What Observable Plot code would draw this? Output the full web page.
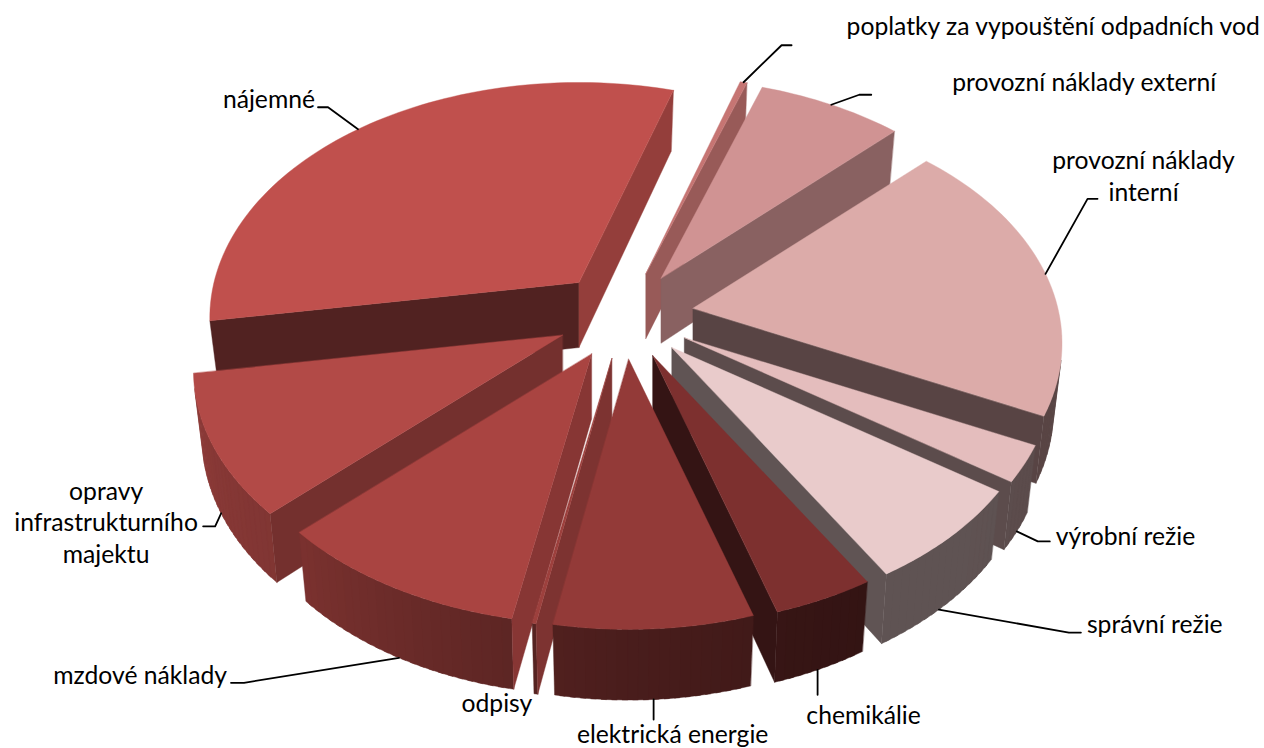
<!DOCTYPE html>
<html><head><meta charset="utf-8">
<script src="https://cdn.jsdelivr.net/npm/d3@7"></script>
<script src="https://cdn.jsdelivr.net/npm/@observablehq/plot@0.6"></script>
<style>html,body{margin:0;padding:0;background:#fff}svg{display:block}</style>
</head><body><div id="chart"></div>
<script>
// Data: clockwise from the top of the pie
const categories = ["poplatky za vypouštění odpadních vod","provozní náklady externí","provozní náklady\ninterní","výrobní režie","správní režie","chemikálie","elektrická energie","odpisy","mzdové náklady","opravy\ninfrastrukturního\nmajektu","nájemné"];
const shares = [0.35,7.4,19.8,2.5,6.75,3.85,7.6,0.15,9.8,9.7,32.5];
const colors = ["#C67573","#D09393","#DCABA9","#E4BDBD","#E9CBCB","#7D302F","#933A38","#9D403D","#A94441","#B24A47","#C0504D"];

// Pie geometry
const W = 1264, H = 748, R = 365, cx = 624, cy = 315;
const startAngle = 17.2, tilt = 0.63, persp = 6.7, thick = 0.178, explode = 0.19, converge = 0.977;
const rad = a => a * Math.PI / 180;
const flatShade = d3.scaleLinear([100,135,171,206,253],[.8,.66,.42,.4,.42]).clamp(true);
const rimShade = d3.scaleLinear([100,150,163,180,191,225,262],[.4,.41,.44,.5,.55,.72,.8]).clamp(true);

const total = d3.sum(shares);
let acc = startAngle;
const slices = shares.map((v,i)=>{
  const a0 = acc, a1 = acc + v/total*360; acc = a1;
  const m = (a0+a1)/2;
  return {i, a0, a1, m, tx: explode*Math.sin(rad(m)), ty: -explode*tilt*Math.cos(rad(m))};
});
function proj(s, a, r, z){
  const u = r*Math.sin(rad(a)), v = -r*Math.cos(rad(a));
  const k = persp/(persp-v);
  return [s.tx + u*k*(1-(1-converge)*z), s.ty + tilt*v*k + z*thick*(1+(k-1)*.5)];
}
const shade = (c,f) => { const q = d3.rgb(c); return d3.rgb(q.r*f,q.g*f,q.b*f).formatHex(); };
const rows = []; let id = 0;
const poly = (pts,c) => { id++; pts.forEach(p=>rows.push({id,x:p[0],y:p[1],c})); };
const area = p => d3.sum(p,(q,i)=>{const n=p[(i+1)%p.length];return q[0]*n[1]-n[0]*q[1];});
function wall(s,a,ra,b,rb,f){
  const pts=[proj(s,a,ra,0),proj(s,b,rb,0),proj(s,b,rb,1),proj(s,a,ra,1)];
  if(area(pts)<0) poly(pts,shade(colors[s.i],f));
}
[...slices].sort((p,q)=>Math.cos(rad(q.m))-Math.cos(rad(p.m))).forEach(s=>{
  const norm = a => ((a%360)+360)%360;
  const steps = Math.max(1,Math.ceil((s.a1-s.a0)/1.5));
  const d = (s.a1-s.a0)/steps;
  for(let j=0;j<steps;j++){
    const a=s.a0+d*j, b=Math.min(s.a1,a+d*1.5);
    wall(s,a,1,b,1,rimShade(norm(a+d/2)));
  }
  wall(s,s.a0,0,s.a0,1,flatShade(norm(s.a0-90)));
  wall(s,s.a1,1,s.a1,0,flatShade(norm(s.a1+90)));
  const top=[proj(s,s.a0,0,0)];
  for(let j=0;j<=steps;j++) top.push(proj(s,s.a0+d*j,1,0));
  poly(top,colors[s.i]);
});

// Label layout: where on the slice the leader starts (fraction of arc, top or bottom edge), leader offsets and text offset in px
const leaders = [
 {f:.5,z:0,e:[[38,-37],[48,-37]],t:[55,-20],anchor:"start"},
 {f:.5,z:0,e:[[28,-10],[40,-10]],t:[81,-14],anchor:"start"},
 {f:.51,z:0,e:[[42,-75],[52,-75]],t:[46,-24],anchor:"middle"},
 {f:.5,z:1,e:[[21,10],[33,10]],t:[6,-6],anchor:"start"},
 {f:.55,z:1,e:[[130,23],[142,23]],t:[6,-10],anchor:"start"},
 {f:.53,z:1,e:[[0,25]],t:[46,19],anchor:"middle"},
 {f:.5,z:1,e:[[0,20]],t:[19,13],anchor:"middle"},
 {f:.5,z:1,e:[],t:[-39,8],anchor:"middle"},
 {f:.49,z:1,e:[[-155,25],[-168,25]],t:[-4,-9],anchor:"end"},
 {f:.5,z:1,e:[[-6,13],[-18,13]],t:[-97,-5],anchor:"middle"},
 {f:.49,z:0,e:[[-30,-22],[-40,-22]],t:[-3,-9],anchor:"end"}
];
const lineRows = [], textRows = [];
slices.forEach((s,i)=>{
  const l = leaders[i];
  const p = proj(s,s.a0+(s.a1-s.a0)*l.f,1,l.z);
  const pts = [p,...l.e.map(o=>[p[0]+o[0]/R,p[1]+o[1]/R])];
  if(l.e.length) pts.forEach(q=>lineRows.push({i,x:q[0],y:q[1]}));
  const end = pts[pts.length-1];
  textRows.push({label:categories[i],x:end[0]+l.t[0]/R,y:end[1]+l.t[1]/R,anchor:l.anchor});
});

const textMark = a => Plot.text(textRows.filter(d=>d.anchor===a),{x:"x",y:"y",text:"label",textAnchor:a,lineHeight:1.27,fill:"#000",fontSize:24.7,fontFamily:"Lato"});
const chart = Plot.plot({
  width:W,height:H,margin:0,axis:null,
  x:{domain:[-cx/R,(W-cx)/R],range:[0,W]},
  y:{domain:[-cy/R,(H-cy)/R],range:[0,H]},
  marks:[
    Plot.line(rows,{x:"x",y:"y",z:"id",fill:"c",stroke:"c",strokeWidth:.4,curve:"linear-closed"}),
    Plot.line(lineRows,{x:"x",y:"y",z:"i",stroke:"#000",strokeWidth:1.8,curve:"linear"}),
    textMark("start"),textMark("middle"),textMark("end")
  ]
});
document.getElementById("chart").append(chart);
</script></body></html>
